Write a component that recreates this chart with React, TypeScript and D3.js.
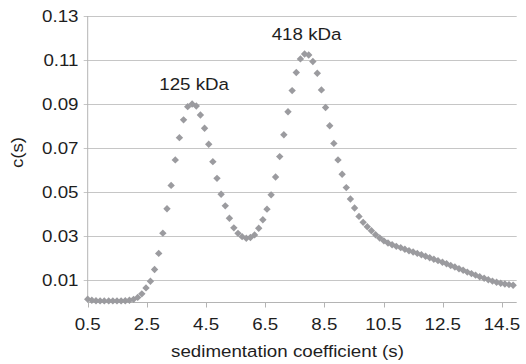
import React from 'react';
import * as d3 from 'd3';

// sedimentation coefficient grid (s) and c(s)
const sValues = [
  0.5, 0.64, 0.78, 0.92, 1.06, 1.21, 1.35, 1.49, 1.63, 1.77, 1.91, 2.05, 2.19, 2.33, 2.47, 2.62, 2.76, 2.9, 3.04, 3.18,
  3.32, 3.46, 3.6, 3.74, 3.88, 4.03, 4.17, 4.31, 4.45, 4.59, 4.73, 4.87, 5.01, 5.15, 5.29, 5.44, 5.58, 5.72, 5.86, 6.0,
  6.14, 6.28, 6.42, 6.56, 6.7, 6.85, 6.99, 7.13, 7.27, 7.41, 7.55, 7.69, 7.83, 7.97, 8.11, 8.26, 8.4, 8.54, 8.68, 8.82,
  8.96, 9.1, 9.24, 9.38, 9.52, 9.67, 9.81, 9.95, 10.09, 10.23, 10.37, 10.51, 10.65, 10.79, 10.93, 11.08, 11.22, 11.36,
  11.5, 11.64, 11.78, 11.92, 12.06, 12.2, 12.34, 12.49, 12.63, 12.77, 12.91, 13.05, 13.19, 13.33, 13.47, 13.61, 13.75,
  13.9, 14.04, 14.18, 14.32, 14.46, 14.6, 14.74, 14.88,
];
const cValues = [
  0.0013, 0.0008, 0.0006, 0.0005, 0.0005, 0.0005, 0.0005, 0.0005, 0.0005, 0.0006, 0.0008, 0.0012, 0.0021, 0.0037,
  0.0064, 0.0094, 0.0148, 0.0221, 0.0313, 0.0424, 0.053, 0.0646, 0.0747, 0.0828, 0.0888, 0.09, 0.0891, 0.085, 0.079,
  0.0717, 0.0638, 0.0562, 0.049, 0.0437, 0.0381, 0.0337, 0.0312, 0.0297, 0.029, 0.0293, 0.0305, 0.0335, 0.0374,
  0.0422, 0.0487, 0.0568, 0.0661, 0.076, 0.0865, 0.0961, 0.1043, 0.1105, 0.1127, 0.1123, 0.1093, 0.104, 0.0964,
  0.0884, 0.0801, 0.0721, 0.0646, 0.0581, 0.052, 0.0468, 0.0427, 0.0389, 0.0362, 0.0342, 0.0324, 0.0306, 0.0291,
  0.0278, 0.0268, 0.026, 0.0253, 0.0247, 0.024, 0.0233, 0.0227, 0.0221, 0.0215, 0.0208, 0.0201, 0.0194, 0.0188,
  0.0181, 0.0174, 0.0166, 0.0159, 0.0151, 0.0144, 0.0136, 0.0129, 0.0122, 0.0115, 0.0108, 0.0101, 0.0095, 0.009,
  0.0085, 0.0082, 0.0079, 0.0076,
];

const xTicks = [0.5, 2.5, 4.5, 6.5, 8.5, 10.5, 12.5, 14.5];
const yTicks = [0.01, 0.03, 0.05, 0.07, 0.09, 0.11, 0.13];

const peakLabels = ['125 kDa', '418 kDa'];
const peakRanges = [[2.5, 6], [6, 10]];

const width = 526;
const height = 364;
const margin = { top: 16, right: 9.3, bottom: 62, left: 87.7 };
const font = '"Liberation Sans", Arial, sans-serif';
const textColor = '#1e1e1e';
const stretch = 1.15; // the original text is drawn a little wider than Arial

function Label({ x, y, anchor = 'middle', rotate = 0, children }: any) {
  return (
    <text
      transform={`translate(${x},${y}) rotate(${rotate}) scale(${stretch},1)`}
      textAnchor={anchor}
      fontSize={16.3}
      fill={textColor}
    >
      {children}
    </text>
  );
}

export default function App() {
  const x = d3.scaleLinear().domain([0.5, 15]).range([margin.left, width - margin.right]);
  const y = d3.scaleLinear().domain([0, 0.13]).range([height - margin.bottom, margin.top]);
  const points = sValues.map((s, i) => ({ s, c: cValues[i] }));

  const peaks = peakRanges.map(([lo, hi], k) => {
    const inRange = points.filter((p) => p.s >= lo && p.s <= hi);
    const top = inRange.reduce((a, b) => (b.c > a.c ? b : a));
    return { ...top, label: peakLabels[k] };
  });

  const r = 3.7;
  const diamond = `M0,${-r}L${r},0L0,${r}L${-r},0Z`;
  const x0 = x.range()[0];
  const x1 = x.range()[1];
  const yBase = Math.round(y(0)) + 0.5;

  return (
    <svg
      width={width}
      height={height}
      style={{ position: 'absolute', left: 0, top: 0, background: '#fff' }}
      fontFamily={font}
    >
      {/* grid */}
      {yTicks.map((t) => {
        const yy = Math.round(y(t)) + 0.5;
        return (
          <g key={t}>
            <line x1={x0 - 4} x2={x1} y1={yy} y2={yy} stroke="#c6c6c6" strokeWidth={1} />
            <Label x={78.5} y={yy + 5.8} anchor="end">
              {t.toFixed(2)}
            </Label>
          </g>
        );
      })}

      {/* axes */}
      <line x1={x0} x2={x0} y1={margin.top} y2={yBase} stroke="#b4b4b4" />
      <line x1={x0} x2={x1} y1={yBase} y2={yBase} stroke="#b4b4b4" />
      {xTicks.map((t) => (
        <g key={t}>
          <line x1={Math.round(x(t)) + 0.5} x2={Math.round(x(t)) + 0.5} y1={yBase} y2={yBase + 5} stroke="#b4b4b4" />
          <Label x={x(t)} y={330}>
            {t}
          </Label>
        </g>
      ))}

      {/* points */}
      {points.map((p, i) => (
        <path key={i} d={diamond} transform={`translate(${x(p.s)},${y(p.c)})`} fill="#9b9b9f" />
      ))}

      {/* peak annotations */}
      {peaks.map((p) => (
        <Label key={p.label} x={x(p.s) + 2} y={y(p.c) - 14}>
          {p.label}
        </Label>
      ))}

      {/* titles */}
      <Label x={22.5} y={152.5} rotate={-90}>
        c(s)
      </Label>
      <Label x={287.5} y={356.5}>
        sedimentation coefficient (s)
      </Label>
    </svg>
  );
}
